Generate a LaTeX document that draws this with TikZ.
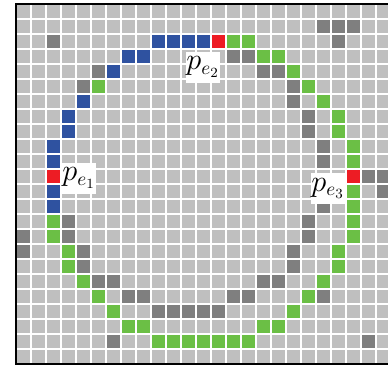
\documentclass[tikz,border=0pt]{standalone}
\usepackage{tikz}
\usetikzlibrary{positioning}
\definecolor{cellLight}{RGB}{191,191,191}
\definecolor{cellDark}{RGB}{127,127,127}
\definecolor{cellBlue}{RGB}{47,82,160}
\definecolor{cellGreen}{RGB}{107,191,69}
\definecolor{cellRed}{RGB}{237,28,36}
\tikzset{
  gridline/.style={white, line width=1.1pt},
  pbox/.style={fill=white, inner sep=0pt, minimum width=0.64cm, minimum height=0.62cm,
    font=\fontsize{16}{18}\selectfont}
}
\begin{document}
\begin{tikzpicture}[x=0.3cm,y=-0.3cm]
    \useasboundingbox (-1.0667,-0.2667) rectangle (24.8,24.133);
    \fill[cellLight] (0,0) rectangle (25,24);

    \foreach \c/\r in {2/2,5/4,4/5,20/1,21/1,22/1,21/2,14/3,15/3,16/4,17/4,18/5,18/6,19/7,19/8,
        20/9,20/10,23/11,24/11,24/12,20/13,19/14,19/15,18/16,18/17,16/18,17/18,14/19,15/19,20/19,
        9/20,10/20,11/20,12/20,13/20,23/22,3/14,3/15,0/15,0/16,4/16,4/17,5/18,6/18,7/19,8/19,6/22}
        \fill[cellDark] (\c,\r) rectangle ++(1,1);

    \foreach \c/\r in {9/2,10/2,11/2,12/2,7/3,8/3,6/4,4/6,3/7,3/8,2/9,2/10,2/12,2/13}
        \fill[cellBlue] (\c,\r) rectangle ++(1,1);

    \foreach \c/\r in {14/2,15/2,16/3,17/3,18/4,5/5,19/5,20/6,21/7,21/8,22/9,22/10,22/12,22/13,
        22/14,22/15,21/16,21/17,20/18,19/19,18/20,16/21,17/21,9/22,10/22,11/22,12/22,13/22,14/22,
        15/22,7/21,8/21,6/20,5/19,4/18,3/17,3/16,2/15,2/14}
        \fill[cellGreen] (\c,\r) rectangle ++(1,1);

    \foreach \c/\r in {13/2,2/11,22/11}
        \fill[cellRed] (\c,\r) rectangle ++(1,1);

    \foreach \i in {1,...,24}
        \draw[gridline] (\i,0) -- (\i,24);
    \foreach \i in {1,...,23}
        \draw[gridline] (0,\i) -- (25,\i);
    \draw[black, line width=0.9pt] (0,0) rectangle (25,24);

    \node[pbox] (pe1) at (4.2,11.6) {$p_{e_1}$};
    \node[pbox] (pe2) at (12.47,4.2) {$p_{e_2}$};
    \node[pbox] (pe3) at (20.8,12.3) {$p_{e_3}$};
\end{tikzpicture}
\end{document}
